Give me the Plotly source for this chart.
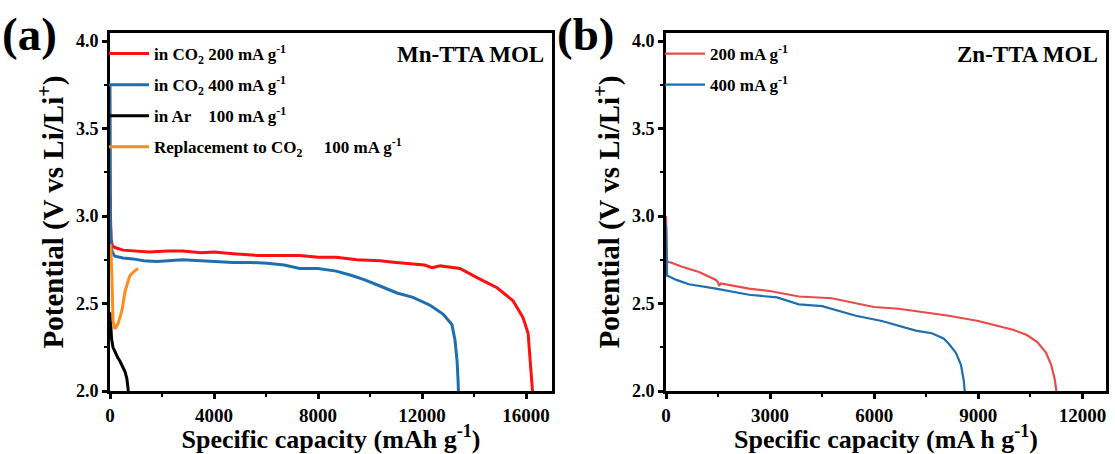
import plotly.graph_objects as go

# ---------------- Panel (a) data: Mn-TTA MOL ----------------
a_red_x = [0, 15, 40, 90, 190, 500, 890, 1500, 2200, 2800, 3500, 4000, 4730, 5650, 6300, 7300, 8000, 8700,
           9500, 10385, 11000, 11654, 12100, 12385, 12700, 12960, 13460, 14115, 14885, 15500, 15885, 16080,
           16150, 16230, 16250]
a_red_y = [3.12, 2.96, 2.87, 2.83, 2.82, 2.805, 2.80, 2.795, 2.80, 2.80, 2.79, 2.795, 2.785, 2.775, 2.775,
           2.775, 2.765, 2.765, 2.75, 2.745, 2.735, 2.728, 2.72, 2.705, 2.715, 2.71, 2.70, 2.648, 2.59, 2.516,
           2.42, 2.33, 2.21, 2.05, 2.0]

a_blue_x = [0, 8, 20, 50, 100, 190, 500, 890, 1300, 1800, 2300, 2800, 3500, 4730, 5400, 6040, 6700, 7300,
            8000, 8700, 9300, 9800, 10385, 11040, 11654, 12310, 12810, 13150, 13270, 13350, 13390, 13400]
a_blue_y = [3.75, 3.3, 2.95, 2.82, 2.79, 2.77, 2.76, 2.755, 2.745, 2.74, 2.745, 2.75, 2.745, 2.735, 2.735,
            2.73, 2.72, 2.70, 2.70, 2.685, 2.66, 2.635, 2.60, 2.56, 2.535, 2.49, 2.44, 2.38, 2.29, 2.17,
            2.05, 2.0]

a_black_x = [0, 20, 60, 115, 200, 300, 385, 480, 580, 650, 690, 705]
a_black_y = [2.45, 2.36, 2.30, 2.25, 2.22, 2.19, 2.17, 2.14, 2.11, 2.07, 2.03, 2.0]

a_orange_x = [0, 30, 75, 115, 190, 310, 460, 580, 700, 770, 900, 1075]
a_orange_y = [2.84, 2.82, 2.65, 2.40, 2.355, 2.385, 2.46, 2.57, 2.63, 2.66, 2.68, 2.70]

# ---------------- Panel (b) data: Zn-TTA MOL ----------------
b_red_x = [0, 10, 30, 200, 460, 950, 1440, 1500, 1530, 1580, 2000, 2390, 3030, 3830, 4780, 5270, 5990,
           6710, 7500, 8150, 9000, 9600, 10000, 10400, 10700, 10950, 11100, 11200, 11250]
b_red_y = [3.0, 2.85, 2.74, 2.73, 2.71, 2.68, 2.635, 2.62, 2.60, 2.615, 2.60, 2.585, 2.57, 2.54, 2.53,
           2.51, 2.48, 2.47, 2.45, 2.43, 2.40, 2.37, 2.35, 2.32, 2.28, 2.22, 2.15, 2.07, 2.0]

b_blue_x = [0, 10, 30, 300, 660, 1440, 2390, 3200, 3830, 4500, 5470, 6220, 7200, 7660, 8000, 8150, 8350,
            8500, 8580, 8610]
b_blue_y = [2.95, 2.75, 2.66, 2.635, 2.61, 2.585, 2.55, 2.535, 2.495, 2.485, 2.43, 2.40, 2.345, 2.33,
            2.30, 2.27, 2.22, 2.15, 2.06, 2.0]

a_names = ["in CO<sub>2</sub> 200 mA g<sup>-1</sup>",
           "in CO<sub>2</sub> 400 mA g<sup>-1</sup>",
           "in Ar&nbsp;&nbsp;&nbsp; 100 mA g<sup>-1</sup>",
           "Replacement to CO<sub>2</sub>&nbsp;&nbsp;&nbsp;&nbsp; 100 mA g<sup>-1</sup>"]
b_names = ["200 mA g<sup>-1</sup>", "400 mA g<sup>-1</sup>"]

a_ticks = [0, 4000, 8000, 12000, 16000]
b_ticks = [0, 3000, 6000, 9000, 12000]
y_ticks = [2.0, 2.5, 3.0, 3.5, 4.0]

FONT = "Liberation Serif"
W, H = 1115, 454

fig = go.Figure()

a_series = [(a_red_x, a_red_y, "#ff1010"), (a_blue_x, a_blue_y, "#1f6fb0"),
            (a_black_x, a_black_y, "#000000"), (a_orange_x, a_orange_y, "#ff8c1a")]
for i, ((xs, ys, c), nm) in enumerate(zip(a_series, a_names)):
    fig.add_trace(go.Scatter(x=xs, y=ys, mode="lines", name=nm, line=dict(color=c, width=3),
                             xaxis="x", yaxis="y", legend="legend", legendgroup=f"a{i}"))

b_series = [(b_red_x, b_red_y, "#ec4a4a"), (b_blue_x, b_blue_y, "#1f6fb0")]
for i, ((xs, ys, c), nm) in enumerate(zip(b_series, b_names)):
    fig.add_trace(go.Scatter(x=xs, y=ys, mode="lines", name=nm, line=dict(color=c, width=2.2),
                             xaxis="x2", yaxis="y2", legend="legend2", legendgroup=f"b{i}"))

ydom = [1 - 391 / H, 1 - 33 / H]
axis_common = dict(showline=True, linewidth=3, linecolor="black", mirror=True, ticks="outside",
                   ticklen=5, tickwidth=2.5, tickcolor="black", showgrid=False, zeroline=False,
                   automargin=False)
minor_x = dict(ticks="outside", ticklen=3, tickwidth=2, tickcolor="black", showgrid=False)
xtickfont = dict(family=FONT, size=19, color="black", weight="bold")
ytickfont = dict(family=FONT, size=18, color="black", weight="bold")
xtitle_font = dict(family=FONT, size=26, color="black", weight="bold")
ytitle_font = dict(family=FONT, size=29, color="black", weight="bold")

fig.update_layout(
    width=W, height=H,
    margin=dict(l=0, r=0, t=0, b=0),
    paper_bgcolor="white", plot_bgcolor="white",
    font=dict(family=FONT, color="black", weight="bold"),
    xaxis=dict(domain=[110 / W, 552 / W], range=[0, 17000], tickvals=a_ticks,
               ticktext=[str(v) for v in a_ticks], tickfont=xtickfont,
               minor=dict(dtick=2000, **minor_x), anchor="y",
               title=dict(text="Specific capacity (mAh g<sup>-1</sup>)", font=xtitle_font, standoff=6),
               **axis_common),
    yaxis=dict(domain=ydom, range=[2.0, 4.046], tickvals=y_ticks, ticktext=[f"{v:.1f}" for v in y_ticks],
               tickfont=ytickfont, minor=dict(dtick=0.25, **minor_x), anchor="x",
               title=dict(text="Potential (V vs Li/Li<sup>+</sup>)", font=ytitle_font, standoff=4),
               **axis_common),
    xaxis2=dict(domain=[666 / W, 1106 / W], range=[0, 12680], tickvals=b_ticks,
                ticktext=[str(v) for v in b_ticks], tickfont=xtickfont,
                minor=dict(dtick=1500, **minor_x), anchor="y2",
                title=dict(text="Specific capacity (mA h g<sup>-1</sup>)", font=xtitle_font, standoff=6),
                **axis_common),
    yaxis2=dict(domain=ydom, range=[2.0, 4.046], tickvals=y_ticks, ticktext=[f"{v:.1f}" for v in y_ticks],
                tickfont=ytickfont, minor=dict(dtick=0.25, **minor_x), anchor="x2",
                title=dict(text="Potential (V vs Li/Li<sup>+</sup>)", font=ytitle_font, standoff=4),
                **axis_common),
    legend=dict(x=104 / W, y=1 - 36 / H, xanchor="left", yanchor="top", bgcolor="rgba(0,0,0,0)",
                font=dict(family=FONT, size=17, weight="bold"), tracegroupgap=6, itemwidth=40),
    legend2=dict(x=660 / W, y=1 - 36 / H, xanchor="left", yanchor="top", bgcolor="rgba(0,0,0,0)",
                 font=dict(family=FONT, size=17, weight="bold"), tracegroupgap=6, itemwidth=40),
    showlegend=True,
)

fig.add_annotation(text="Mn-TTA MOL", x=546 / W, y=1 - 55 / H, xref="paper", yref="paper",
                   xanchor="right", yanchor="middle", showarrow=False,
                   font=dict(family=FONT, size=23, weight="bold"))
fig.add_annotation(text="Zn-TTA MOL", x=1100 / W, y=1 - 55 / H, xref="paper", yref="paper",
                   xanchor="right", yanchor="middle", showarrow=False,
                   font=dict(family=FONT, size=23, weight="bold"))
fig.add_annotation(text="(a)", x=0 / W, y=1 - 34 / H, xref="paper", yref="paper",
                   xanchor="left", yanchor="middle", showarrow=False,
                   font=dict(family=FONT, size=47, weight="bold"))
fig.add_annotation(text="(b)", x=555 / W, y=1 - 34 / H, xref="paper", yref="paper",
                   xanchor="left", yanchor="middle", showarrow=False,
                   font=dict(family=FONT, size=47, weight="bold"))

fig.write_html("out.html", config={"displayModeBar": False},
               post_script="document.body.style.margin='0';document.body.style.overflow='hidden';")
